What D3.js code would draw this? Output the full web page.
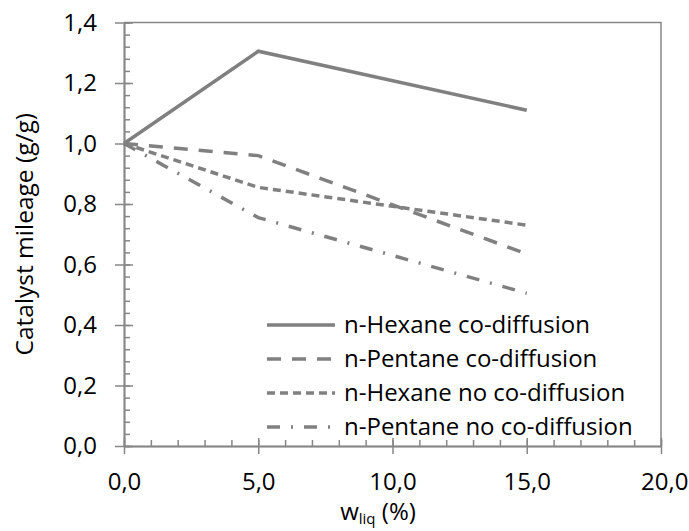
<!DOCTYPE html>
<html>
<head>
<meta charset="utf-8">
<script src="https://cdn.jsdelivr.net/npm/d3@7"></script>
<style>
  body { margin: 0; background: #fff; }
  svg { display: block; font-family: "Open Sans", sans-serif; }
</style>
</head>
<body>
<svg id="chart" width="689" height="531"></svg>
<script>
// data
const wLiq = [0, 5, 15]
const hexaneCo = [1.0, 1.305, 1.11]
const pentaneCo = [1.0, 0.96, 0.635]
const hexaneNo = [1.0, 0.855, 0.73]
const pentaneNo = [1.0, 0.755, 0.505]

const seriesNames = ['n-Hexane co-diffusion', 'n-Pentane co-diffusion', 'n-Hexane no co-diffusion', 'n-Pentane no co-diffusion']
const seriesValues = [hexaneCo, pentaneCo, hexaneNo, pentaneNo]
const dashes = ['none', '14,11', '8,5', '13,11,2,11']

const xTicks = [0, 5, 10, 15, 20]
const yTicks = [0, 0.2, 0.4, 0.6, 0.8, 1.0, 1.2, 1.4]

const gray = '#878787'
const lineGray = '#808080'

const svg = d3.select('#chart')
const plotL = 124, plotR = 661, plotT = 22.5, plotB = 446

const x = d3.scaleLinear().domain([0, 20]).range([plotL, plotR])
const y = d3.scaleLinear().domain([0, 1.4]).range([plotB, plotT])

const comma = d3.formatLocale({ decimal: ',', thousands: '.', grouping: [3], currency: ['', ''] })
const fmt = comma.format('.1f')

// plot area frame (top / right)
svg.append('path')
  .attr('d', `M${plotL},${plotT}H${plotR}V${plotB}`)
  .attr('fill', 'none')
  .attr('stroke', gray)
  .attr('stroke-width', 1.5)

// y axis
const yMinor = d3.range(0, 1.4001, 0.04)
svg.append('g')
  .attr('transform', `translate(${plotL},0)`)
  .call(d3.axisRight(y).tickValues(yMinor).tickSize(6).tickSizeOuter(0).tickFormat(''))
svg.append('g')
  .attr('transform', `translate(${plotL},0)`)
  .call(d3.axisRight(y).tickValues(yTicks).tickSize(9).tickSizeOuter(0).tickFormat(''))
svg.append('g')
  .attr('class', 'ylab')
  .attr('transform', `translate(${plotL},0)`)
  .call(d3.axisLeft(y).tickValues(yTicks).tickSize(9).tickSizeOuter(0).tickPadding(18).tickFormat(fmt))

// x axis
const xMinor = d3.range(0, 20.001, 1)
svg.append('g')
  .attr('transform', `translate(0,${plotB})`)
  .call(d3.axisTop(x).tickValues(xMinor).tickSize(6).tickSizeOuter(0).tickFormat(''))
svg.append('g')
  .attr('transform', `translate(0,${plotB})`)
  .call(d3.axisTop(x).tickValues(xTicks).tickSize(8).tickSizeOuter(0).tickFormat(''))
svg.append('g')
  .attr('class', 'xlab')
  .attr('transform', `translate(0,${plotB})`)
  .call(d3.axisBottom(x).tickValues(xTicks).tickSize(8).tickSizeOuter(0).tickPadding(19).tickFormat(fmt))

svg.selectAll('.domain, .tick line')
  .attr('stroke', gray)
  .attr('stroke-width', 1.5)
svg.selectAll('.tick text')
  .attr('fill', '#000')
  .style('font-size', '24px')
  .style('font-family', '"Open Sans", sans-serif')
// last x label is pulled inside the picture
svg.selectAll('.xlab .tick text').filter(d => d === 20).attr('text-anchor', 'end').attr('dx', 27)

// axis titles
svg.append('text')
  .attr('transform', `translate(33,${(plotT + plotB) / 2}) rotate(-90)`)
  .attr('text-anchor', 'middle')
  .style('font-size', '24.5px')
  .text('Catalyst mileage (g/g)')

const xt = svg.append('text')
  .attr('x', 378)
  .attr('y', 520)
  .attr('text-anchor', 'middle')
  .style('font-size', '24px')
xt.append('tspan').text('w')
xt.append('tspan').attr('dy', 4).style('font-size', '15px').text('liq')
xt.append('tspan').attr('dy', -4).text(' (%)')

// series
const line = d3.line()
  .x((d, i) => x(wLiq[i]))
  .y(d => y(d))

seriesValues.forEach((vals, i) => {
  svg.append('path')
    .datum(vals)
    .attr('d', line)
    .attr('fill', 'none')
    .attr('stroke', lineGray)
    .attr('stroke-width', 3.5)
    .attr('stroke-dasharray', dashes[i])
})

// legend
const legend = svg.append('g').attr('transform', 'translate(267,325)')
seriesNames.forEach((name, i) => {
  const row = legend.append('g').attr('transform', `translate(0,${i * 34})`)
  row.append('line')
    .attr('x1', 0).attr('x2', 68)
    .attr('stroke', lineGray)
    .attr('stroke-width', 3.5)
    .attr('stroke-dasharray', dashes[i])
  row.append('text')
    .attr('x', 77)
    .attr('dy', '0.35em')
    .style('font-size', '24px')
    .text(name)
})
</script>
</body>
</html>
